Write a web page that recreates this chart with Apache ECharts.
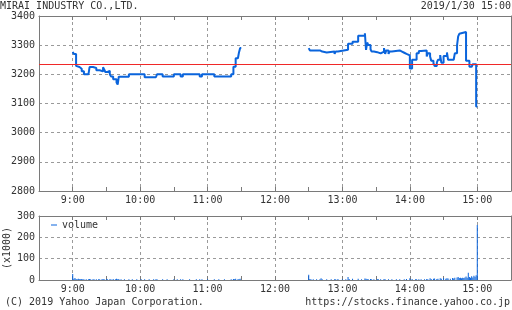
<!DOCTYPE html>
<html>
<head>
<meta charset="utf-8">
<script src="https://cdn.jsdelivr.net/npm/echarts@6/dist/echarts.min.js"></script>
<style>html,body{margin:0;padding:0;background:#fff}#c{width:512px;height:310px}</style>
</head>
<body>
<div id="c"></div>
<script>
// ---- data ----
const titleText = 'MIRAI INDUSTRY CO.,LTD.';
const dateText = '2019/1/30 15:00';
const copyrightText = '(C) 2019 Yahoo Japan Corporation.';
const urlText = 'https://stocks.finance.yahoo.co.jp';
const hourLabels = ['9:00', '10:00', '11:00', '12:00', '13:00', '14:00', '15:00'];
const prevClose = 3235;
const priceMin = 2800, priceMax = 3400, priceStep = 100;
const volMax = 300, volStep = 100;
const volUnit = '(x1000)';
const volName = 'volume';

const amTimes = ['9:00','9:01','9:03','9:04','9:06','9:08','9:10','9:14','9:15','9:18','9:19','9:21','9:24','9:27','9:28','9:29','9:31','9:33','9:34','9:36','9:39','9:40','9:41','9:50','10:04','10:14','10:15','10:20','10:30','10:36','10:38','10:53','10:55','11:06','11:21','11:23','11:25','11:27','11:28','11:29','11:30'];
const amPrices = [3277,3270,3229,3225,3219,3211,3200,3205,3225,3228,3222,3214,3210,3224,3217,3208,3212,3200,3193,3183,3172,3165,3192,3200,3190,3195,3200,3193,3200,3193,3200,3193,3200,3193,3200,3226,3255,3249,3276,3290,3290];

const pmTimes = ['12:30','12:31','12:40','12:42','12:46','12:53','12:54','12:56','13:05','13:09','13:14','13:20','13:21','13:22','13:23','13:25','13:26','13:28','13:31','13:32','13:34','13:37','13:38','13:39','13:41','13:42','13:44','13:45','13:51','13:53','13:55','13:57','14:00','14:02','14:06','14:08','14:10','14:15','14:16','14:18','14:19','14:21','14:22','14:24','14:25','14:27','14:28','14:30','14:33','14:34','14:39','14:40','14:42','14:43','14:44','14:45','14:50','14:53','14:55','14:56','14:59','15:00'];
const pmPrices = [3290,3282,3278,3275,3278,3270,3278,3284,3305,3312,3332,3341,3284,3309,3301,3286,3278,3276,3282,3272,3278,3290,3270,3282,3270,3278,3284,3282,3278,3274,3270,3265,3220,3250,3272,3280,3282,3261,3272,3261,3247,3238,3229,3240,3250,3266,3240,3263,3275,3250,3247,3272,3300,3330,3339,3345,3247,3226,3230,3235,3090,3090];

const volTimes = ['9:00','9:01','9:02','9:03','9:04','9:05','9:06','9:07','9:08','9:09','9:10','9:12','9:14','9:15','9:16','9:18','9:19','9:21','9:23','9:24','9:26','9:27','9:28','9:30','9:31','9:33','9:34','9:36','9:38','9:39','9:40','9:41','9:43','9:46','9:50','9:53','9:57','10:01','10:04','10:08','10:12','10:14','10:15','10:20','10:24','10:30','10:33','10:36','10:38','10:44','10:50','10:53','10:55','11:00','11:06','11:10','11:15','11:21','11:23','11:24','11:25','11:27','11:28','11:29',
 '12:30','12:31','12:32','12:34','12:37','12:40','12:41','12:42','12:46','12:50','12:53','12:54','12:56','13:00','13:03','13:05','13:06','13:09','13:14','13:17','13:20','13:21','13:22','13:23','13:25','13:26','13:28','13:31','13:32','13:34','13:37','13:38','13:41','13:44','13:48','13:51','13:55','13:57','14:00','14:02','14:05','14:06','14:08','14:10','14:13','14:15','14:16','14:18','14:19','14:21','14:22','14:24','14:25','14:27','14:28','14:30','14:32','14:33','14:34','14:36','14:38','14:39','14:40','14:42','14:43','14:44','14:45','14:46','14:47','14:48','14:49','14:50','14:51','14:52','14:53','14:54','14:55','14:56','14:57','14:58','14:59','15:00'];
const volValues = [28,6,9,5,4,6,3,4,5,3,4,3,4,5,3,4,3,4,3,3,4,5,3,4,3,4,3,5,3,6,4,5,3,3,4,3,3,3,4,3,3,4,3,3,3,4,3,3,3,3,3,3,3,3,3,3,3,4,5,4,6,4,5,6,
 25,5,4,3,3,4,8,3,4,3,4,3,5,3,4,14,5,6,6,3,7,6,5,4,5,3,4,5,4,3,5,3,4,4,3,3,4,5,8,5,3,4,4,3,4,5,4,8,5,6,7,5,6,8,6,9,6,8,7,6,9,7,10,12,14,9,10,8,11,9,12,16,10,34,14,10,18,12,20,15,22,258];

// ---- helpers ----
function toX(t) { const p = t.split(':').map(Number); return p[0] * 60 + p[1] - 510; }
const pairs = (ts, vs) => ts.map((t, i) => [toX(t), vs[i]]);

const FONT = 'DejaVu Sans Mono';
const TXT = '#333';
const AX = '#7a7a7a';
const GRIDC = '#9a9a9a';
const BLUE = '#0a64dc';

function xAxisBottom(gi) {
  return {
    type: 'value', gridIndex: gi, min: 0, max: 420, interval: 30, position: 'bottom',
    axisLine: { show: true, onZero: false, lineStyle: { color: AX, width: 1 } },
    axisTick: { show: true, inside: true, length: 4, lineStyle: { color: AX } },
    axisLabel: {
      show: true, margin: 4, fontSize: 10, fontFamily: FONT, color: TXT, hideOverlap: false,
      formatter: v => (v % 60 === 30 ? hourLabels[(v - 30) / 60] || '' : '')
    },
    splitLine: { show: true, lineStyle: { color: ['rgba(0,0,0,0)', GRIDC], type: [3, 3], width: 1 } }
  };
}
function xAxisTop(gi) {
  return {
    type: 'value', gridIndex: gi, min: 0, max: 420, interval: 30, position: 'top',
    axisLine: { show: true, onZero: false, lineStyle: { color: AX, width: 1 } },
    axisTick: { show: true, inside: true, length: 4, lineStyle: { color: AX } },
    axisLabel: { show: false }, splitLine: { show: false }
  };
}
function yAxisLeft(gi, min, max, step, extra) {
  return Object.assign({
    type: 'value', gridIndex: gi, min: min, max: max, interval: step, position: 'left',
    axisLine: { show: true, onZero: false, lineStyle: { color: AX, width: 1 } },
    axisTick: { show: false },
    axisLabel: { show: true, margin: 4, fontSize: 10, fontFamily: FONT, color: TXT, formatter: v => String(v) },
    splitLine: { show: true, lineStyle: { color: GRIDC, type: [3, 3], width: 1 } }
  }, extra || {});
}
function yAxisRight(gi, min, max, step) {
  return {
    type: 'value', gridIndex: gi, min: min, max: max, interval: step, position: 'right',
    axisLine: { show: true, onZero: false, lineStyle: { color: AX, width: 1 } },
    axisTick: { show: false }, axisLabel: { show: false }, splitLine: { show: false }
  };
}

const lineStyle = { color: BLUE, width: 2 };
const chart = echarts.init(document.getElementById('c'), null, { renderer: 'canvas' });
chart.setOption({
  animation: false,
  backgroundColor: '#fff',
  textStyle: { fontFamily: FONT },
  title: [
    { text: titleText, left: 0, top: 1, padding: 0, textStyle: { fontSize: 10, fontWeight: 'normal', color: TXT, fontFamily: FONT } },
    { text: dateText, right: 1, top: 1, padding: 0, textStyle: { fontSize: 10, fontWeight: 'normal', color: TXT, fontFamily: FONT } },
    { text: copyrightText, left: 5, top: 297, padding: 0, textStyle: { fontSize: 10, fontWeight: 'normal', color: TXT, fontFamily: FONT } },
    { text: urlText, right: 2, top: 297, padding: 0, textStyle: { fontSize: 10, fontWeight: 'normal', color: TXT, fontFamily: FONT } }
  ],
  legend: {
    data: [volName], left: 51, top: 220, padding: 0, itemWidth: 6, itemHeight: 1, icon: 'rect',
    textStyle: { fontSize: 10, fontFamily: FONT, color: TXT }
  },
  grid: [
    { left: 39, right: 1, top: 16, height: 175, containLabel: false, outerBoundsMode: 'none' },
    { left: 39, right: 1, top: 216, height: 64, containLabel: false, outerBoundsMode: 'none' }
  ],
  xAxis: [xAxisBottom(0), xAxisTop(0), xAxisBottom(1), xAxisTop(1)],
  yAxis: [
    yAxisLeft(0, priceMin, priceMax, priceStep),
    yAxisRight(0, priceMin, priceMax, priceStep),
    yAxisLeft(1, 0, volMax, volStep, {
      name: volUnit, nameLocation: 'middle', nameRotate: 90, nameGap: 27, nameMoveOverlap: false,
      nameTextStyle: { fontSize: 10, fontFamily: FONT, color: TXT }
    }),
    yAxisRight(1, 0, volMax, volStep)
  ],
  series: [
    {
      name: 'price-am', type: 'line', xAxisIndex: 0, yAxisIndex: 0, step: 'end', showSymbol: false,
      data: pairs(amTimes, amPrices), lineStyle: lineStyle, itemStyle: { color: BLUE }, z: 3,
      markLine: {
        silent: true, symbol: 'none', label: { show: false },
        lineStyle: { color: '#f02828', type: 'solid', width: 1 },
        data: [{ yAxis: prevClose }]
      }
    },
    {
      name: 'price-pm', type: 'line', xAxisIndex: 0, yAxisIndex: 0, step: 'end', showSymbol: false,
      data: pairs(pmTimes, pmPrices), lineStyle: lineStyle, itemStyle: { color: BLUE }, z: 3
    },
    {
      name: volName, type: 'bar', xAxisIndex: 2, yAxisIndex: 2, barWidth: 1,
      data: pairs(volTimes, volValues), itemStyle: { color: BLUE }
    }
  ]
});
</script>
</body>
</html>
